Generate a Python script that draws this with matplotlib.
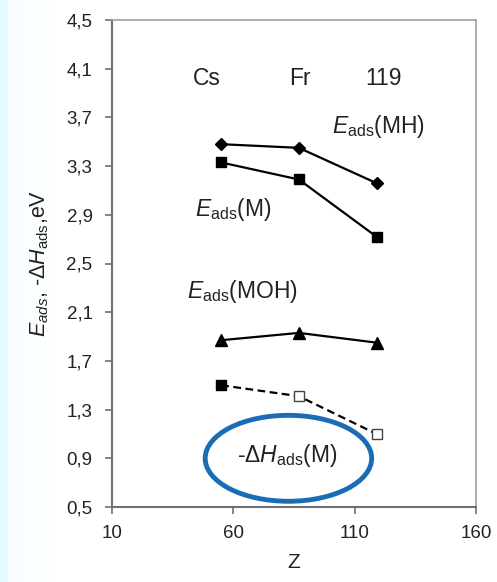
import numpy as np
import matplotlib
matplotlib.use("Agg")
import matplotlib.pyplot as plt
from matplotlib.patches import Ellipse

plt.rcParams["font.family"] = ["Liberation Sans", "DejaVu Sans"]
plt.rcParams["mathtext.fontset"] = "custom"
plt.rcParams["mathtext.rm"] = "Liberation Sans"
plt.rcParams["mathtext.it"] = "Liberation Sans:italic"
plt.rcParams["mathtext.bf"] = "Liberation Sans:bold"

# Atomic numbers of the elements
z = [55, 87, 119]
elements = ["Cs", "Fr", "119"]

# Adsorption energies, eV
e_ads_mh = [3.48, 3.45, 3.16]
e_ads_m = [3.33, 3.19, 2.72]
e_ads_moh = [1.87, 1.93, 1.85]
dh_ads_m = [1.50, 1.41, 1.10]

x_ticks = [10, 60, 110, 160]
y_ticks = [0.5, 0.9, 1.3, 1.7, 2.1, 2.5, 2.9, 3.3, 3.7, 4.1, 4.5]

fig = plt.figure(figsize=(4.97, 5.82), dpi=100)

# pale cyan band along the left edge
bax = fig.add_axes([0, 0, 60 / 497, 1], zorder=-5)
cmap = matplotlib.colors.LinearSegmentedColormap.from_list("b", ["#ffffff", "#e2fbff"])
shade = np.where(np.arange(60) < 8, 1.0, np.clip(0.35 - np.arange(60) / 160, 0, 1))
bax.imshow(shade.reshape(1, -1), aspect="auto", cmap=cmap, vmin=0, vmax=1,
           extent=[0, 1, 0, 1])
bax.axis("off")

ax = fig.add_axes([112 / 497, 1 - 507 / 582, 364 / 497, 487 / 582])
ax.set_xlim(10, 160)
ax.set_ylim(0.5, 4.5)

lw = 1.6
ax.plot(z, e_ads_mh, color="black", lw=lw, marker="D", ms=6.5, zorder=3)
ax.plot(z, e_ads_m, color="black", lw=lw, marker="s", ms=7.5, zorder=3)
ax.plot(z, e_ads_moh, color="black", lw=lw, marker="^", ms=8, zorder=3)
ax.plot(z, dh_ads_m, color="black", lw=lw, ls=(0, (3.5, 2)), zorder=3)
ax.plot(z[:1], dh_ads_m[:1], ls="none", marker="s", ms=7.5, color="black", zorder=4)
ax.plot(z[1:], dh_ads_m[1:], ls="none", marker="s", ms=7.5, mfc="white",
        mec="#444444", mew=1.0, zorder=4)

ax.set_xticks(x_ticks)
ax.set_yticks(y_ticks)
ax.set_yticklabels([f"{v:.1f}".replace(".", ",") for v in y_ticks])
ax.tick_params(axis="both", direction="out", length=5, width=1.2, color="#707070",
               labelsize=13.5, labelcolor="#222222")
ax.tick_params(axis="y", pad=9)
ax.tick_params(axis="x", pad=8)

for side in ["left", "bottom"]:
    ax.spines[side].set_color("#707070")
    ax.spines[side].set_linewidth(1.5)
for side in ["top", "right"]:
    ax.spines[side].set_color("#a0a0a0")
    ax.spines[side].set_linewidth(1.2)

ax.set_xlabel("Z", fontsize=15, labelpad=8, color="#222222")
ax.set_ylabel(r"$E_{ads}$, -Δ$H_{\rm ads}$,eV", fontsize=15.5, labelpad=11, color="#222222")

label_shift = [-6, 0.5, 3]
for xe, dx, name in zip(z, label_shift, elements):
    ax.text(xe + dx, 4.02, name, fontsize=16.5, ha="center", va="center", color="#222222")

txt = dict(fontsize=16.5, ha="center", va="center", color="#222222")
ax.text(120, 3.625, r"$E_{\rm ads}$(MH)", **txt)
ax.text(60.1, 2.94, r"$E_{\rm ads}$(M)", **txt)
ax.text(63.6, 2.27, r"$E_{\rm ads}$(MOH)", **txt)
ax.text(82.1, 0.92, r"-Δ$H_{\rm ads}$(M)", **txt)

ax.add_patch(Ellipse((82.7, 0.90), 68.6, 0.706, fill=False, ec="#1a6db5", lw=3.5, zorder=5))

fig.savefig("out.png", dpi=100)
